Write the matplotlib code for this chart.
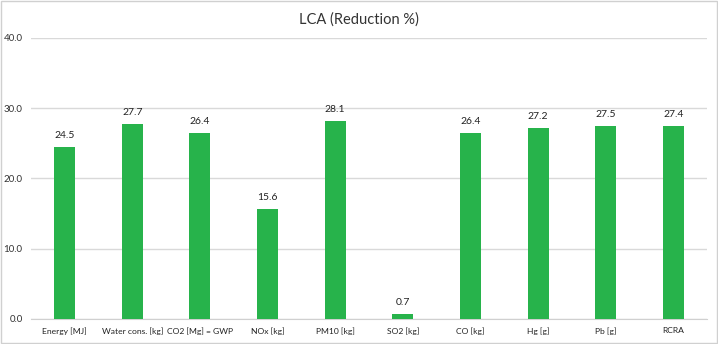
import matplotlib
matplotlib.use("Agg")
import matplotlib.pyplot as plt
import numpy as np

# data
categories = ["Energy [MJ]", "Water cons. [kg]", "CO2 [Mg] = GWP", "NOx [kg]",
              "PM10 [kg]", "SO2 [kg]", "CO [kg]", "Hg [g]", "Pb [g]", "RCRA"]
reduction = [24.5, 27.7, 26.4, 15.6, 28.1, 0.7, 26.4, 27.2, 27.5, 27.4]
yticks = [0, 10, 20, 30, 40]

plt.rcParams['font.family'] = ['Lato', 'DejaVu Sans']

fig = plt.figure(figsize=(7.18, 3.44), dpi=100)
ax = fig.add_axes([0.043, 0.073, 0.942, 0.817])

x = np.arange(len(categories))
ax.bar(x, reduction, width=0.31, color='#27b34b', zorder=3)

for xi, v in zip(x, reduction):
    ax.text(xi, v + 1.0, "%.1f" % v, ha='center', va='bottom',
            fontsize=7.5, color='#222222')

ax.set_xlim(-0.5, len(categories) - 0.5)
ax.set_ylim(0, 40)
ax.set_yticks(yticks)
ax.set_yticklabels(["%.1f" % t for t in yticks], fontsize=7, color='#333333')
ax.set_xticks(x)
ax.set_xticklabels(categories, fontsize=6.1, color='#222222')
ax.tick_params(length=0, pad=6)

ax.grid(axis='y', color='#d9d9d9', linewidth=1, zorder=0)
for side in ['top', 'right', 'left']:
    ax.spines[side].set_visible(False)
ax.spines['bottom'].set_color('#d0d0d0')

fig.suptitle("LCA (Reduction %)", y=0.965, fontsize=10.5, color='#333333')

# light frame around the chart
fig.patches.append(plt.Rectangle((0.001, 0.003), 0.998, 0.994, transform=fig.transFigure,
                                 fill=False, edgecolor='#d0d0d0', linewidth=1))

fig.savefig("out.png", dpi=100)
